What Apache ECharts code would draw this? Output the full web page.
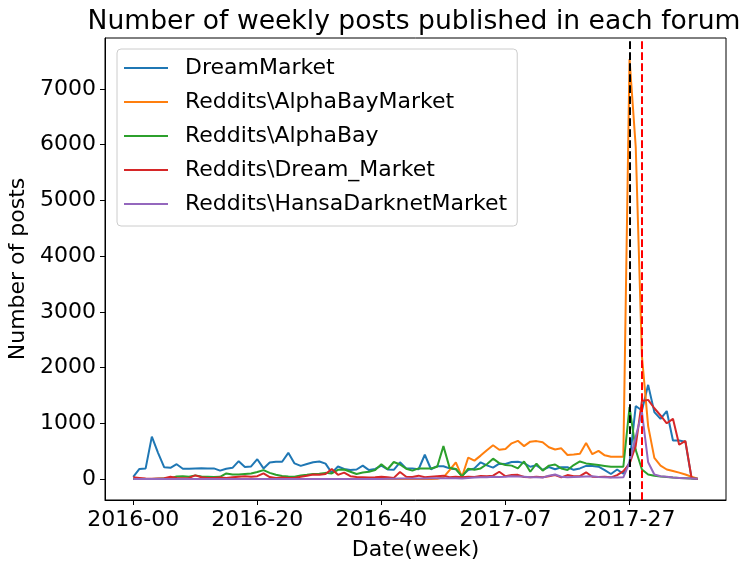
<!DOCTYPE html>
<html lang="en">

<head>
    <meta charset="UTF-8">
    <title>Weekly posts per forum</title>
    <script src="https://cdn.jsdelivr.net/npm/echarts@6/dist/echarts.min.js"></script>
    <style>
        body { margin: 0; background: #fff; }
    </style>
</head>

<body>

    <div id='main' style="width: 752px;height: 571px;"></div>

    <script>
        // week labels: 2016-00 .. 2016-52, then 2017-00 .. 2017-38
        var weeks = [];
        for (var w = 0; w <= 52; w++) weeks.push('2016-' + (w < 10 ? '0' + w : w));
        for (var w = 0; w <= 38; w++) weeks.push('2017-' + (w < 10 ? '0' + w : w));

        var tickWeeks = [0, 20, 40, 60, 80];
        var yTicks = [0, 1000, 2000, 3000, 4000, 5000, 6000, 7000];

        var names = ['DreamMarket', 'Reddits\\AlphaBayMarket', 'Reddits\\AlphaBay',
            'Reddits\\Dream_Market', 'Reddits\\HansaDarknetMarket'];
        var colors = ['#1f77b4', '#ff7f0e', '#2ca02c', '#d62728', '#9467bd'];

        var dreamMarket = [40, 180, 190, 760, 470, 210, 200, 265, 185, 185,
            190, 195, 190, 190, 150, 185, 200, 320, 215, 225,
            355, 190, 295, 310, 310, 470, 280, 235, 270, 300,
            315, 275, 110, 225, 180, 160, 170, 240, 160, 180,
            240, 170, 165, 300, 190, 190, 175, 435, 175, 230,
            230, 190, 175, 60, 160, 190, 300, 245, 205, 275,
            270, 305, 310, 285, 220, 245, 165, 215, 175, 210,
            210, 165, 190, 235, 235, 220, 160, 90, 170, 95,
            300, 1310, 1230, 1690, 1200, 1080, 1220, 690, 690, 670,
            10, 0];

        var alphaBayMarket = [0, 0, 0, 0, 0, 0, 0, 0, 0, 0,
            0, 0, 0, 0, 0, 0, 0, 0, 0, 0,
            0, 0, 0, 0, 0, 0, 0, 0, 0, 0,
            0, 0, 0, 0, 0, 0, 0, 0, 0, 0,
            0, 0, 0, 0, 0, 0, 0, 0, 0, 5,
            30, 160, 300, 40, 385, 330, 420, 515, 605, 525,
            540, 640, 685, 590, 670, 680, 660, 570, 530, 550,
            430, 440, 455, 645, 445, 505, 425, 400, 400, 400,
            7540, 5960, 2200, 950, 380, 240, 170, 145, 115, 80,
            40, 5];

        var alphaBay = [0, 0, 0, 0, 5, 10, 15, 45, 50, 40,
            65, 45, 40, 35, 40, 100, 80, 80, 90, 100,
            125, 160, 110, 75, 55, 45, 40, 65, 75, 90,
            95, 110, 100, 165, 170, 130, 90, 115, 130, 160,
            263, 175, 305, 260, 185, 150, 190, 190, 190, 220,
            590, 200, 180, 45, 185, 165, 190, 265, 365, 285,
            250, 240, 190, 315, 130, 275, 150, 240, 260, 190,
            160, 250, 315, 280, 265, 250, 235, 220, 220, 220,
            1290, 520, 170, 80, 60, 45, 35, 25, 20, 15,
            10, 5];

        var dreamMarketReddit = [30, 20, 10, 5, 10, 15, 40, 20, 15, 20,
            65, 30, 20, 20, 25, 20, 30, 40, 50, 40,
            50, 100, 35, 20, 25, 20, 20, 40, 60, 80,
            75, 90, 180, 75, 115, 50, 35, 30, 25, 30,
            40, 30, 20, 125, 40, 35, 60, 30, 40, 50,
            60, 30, 40, 30, 40, 35, 55, 50, 60, 130,
            50, 70, 75, 35, 30, 40, 30, 50, 70, 30,
            70, 50, 50, 120, 40, 35, 40, 30, 70, 140,
            270, 600, 1400, 1420, 1270, 1140, 1000, 1080, 615, 685,
            20, 0];

        var hansa = [0, 0, 0, 0, 0, 0, 0, 0, 0, 0,
            0, 0, 0, 0, 0, 0, 0, 0, 0, 0,
            0, 0, 0, 0, 0, 0, 0, 0, 0, 0,
            0, 0, 0, 0, 0, 0, 0, 0, 0, 0,
            2, 5, 5, 8, 8, 10, 10, 10, 12, 12,
            15, 12, 15, 10, 20, 25, 30, 30, 40, 35,
            40, 50, 45, 40, 30, 30, 25, 60, 80, 40,
            30, 35, 40, 45, 50, 35, 30, 25, 25, 30,
            300, 760, 1200, 300, 80, 50, 40, 25, 20, 15,
            10, 5];

        var seriesValues = [dreamMarket, alphaBayMarket, alphaBay, dreamMarketReddit, hansa];

        // dashed markers at 2017-27 (black) and 2017-29 (red)
        var markWeeks = [80, 82];
        var markColors = ['#000000', '#ff0000'];

        var myChart = echarts.init(document.getElementById('main'));

        var font = 'DejaVu Sans';

        var series = [];
        for (var s = 0; s < seriesValues.length; s++) {
            var pts = [];
            for (var i = 0; i < seriesValues[s].length; i++) {
                pts.push([i, seriesValues[s][i]]);
            }
            series.push({
                name: names[s],
                type: 'line',
                data: pts,
                showSymbol: false,
                symbol: 'none',
                lineStyle: { width: 2, color: colors[s] },
                itemStyle: { color: colors[s] }
            });
        }

        // vertical lines drawn on top of the last series
        var marks = [];
        for (var m = 0; m < markWeeks.length; m++) {
            marks.push({
                xAxis: markWeeks[m],
                lineStyle: { color: markColors[m], type: [7.7, 3.3], width: 2 }
            });
        }
        series[series.length - 1].markLine = {
            silent: true,
            symbol: ['none', 'none'],
            label: { show: false },
            data: marks
        };

        var option = {
            animation: false,
            title: {
                text: 'Number of weekly posts published in each forum',
                left: 414,
                top: 9,
                padding: 0,
                textAlign: 'center',
                textStyle: { fontFamily: font, fontSize: 26.6, fontWeight: 'normal', color: '#000' }
            },
            legend: {
                orient: 'vertical',
                left: 117,
                top: 49,
                padding: [6, 10, 9, 7],
                itemGap: 8,
                itemWidth: 44,
                itemHeight: 2,
                icon: 'rect',
                backgroundColor: 'rgba(255,255,255,0.8)',
                borderColor: '#cccccc',
                borderWidth: 1,
                borderRadius: 4,
                textStyle: { fontFamily: font, fontSize: 22, lineHeight: 26, color: '#000', padding: [0, 0, 0, 12] },
                data: names
            },
            grid: {
                left: 105,
                right: 26,
                top: 38,
                bottom: 71,
                outerBoundsMode: 'none',
                containLabel: false,
                show: true,
                borderColor: '#000',
                borderWidth: 1
            },
            xAxis: {
                type: 'value',
                min: -4.55,
                max: 95.55,
                name: 'Date(week)',
                nameLocation: 'middle',
                nameGap: 39,
                nameTextStyle: { fontFamily: font, fontSize: 22, color: '#000' },
                axisLine: { onZero: false, lineStyle: { color: '#000', width: 1 } },
                axisTick: { length: 5, lineStyle: { color: '#000' }, customValues: tickWeeks },
                axisLabel: {
                    fontFamily: font, fontSize: 22, color: '#000', margin: 9,
                    customValues: tickWeeks,
                    formatter: function (v) { return weeks[Math.round(v)]; }
                },
                splitLine: { show: false }
            },
            yAxis: {
                type: 'value',
                min: -377,
                max: 7916,
                name: 'Number of posts',
                nameLocation: 'middle',
                nameGap: 68,
                nameTextStyle: { fontFamily: font, fontSize: 22, color: '#000' },
                axisLine: { show: true, onZero: false, lineStyle: { color: '#000', width: 1 } },
                axisTick: { show: true, length: 5, lineStyle: { color: '#000' }, customValues: yTicks },
                axisLabel: {
                    fontFamily: font, fontSize: 22, color: '#000', margin: 9,
                    customValues: yTicks,
                    formatter: function (v) { return String(v); }
                },
                splitLine: { show: false }
            },
            series: series
        };

        myChart.setOption(option);
    </script>
</body>

</html>
